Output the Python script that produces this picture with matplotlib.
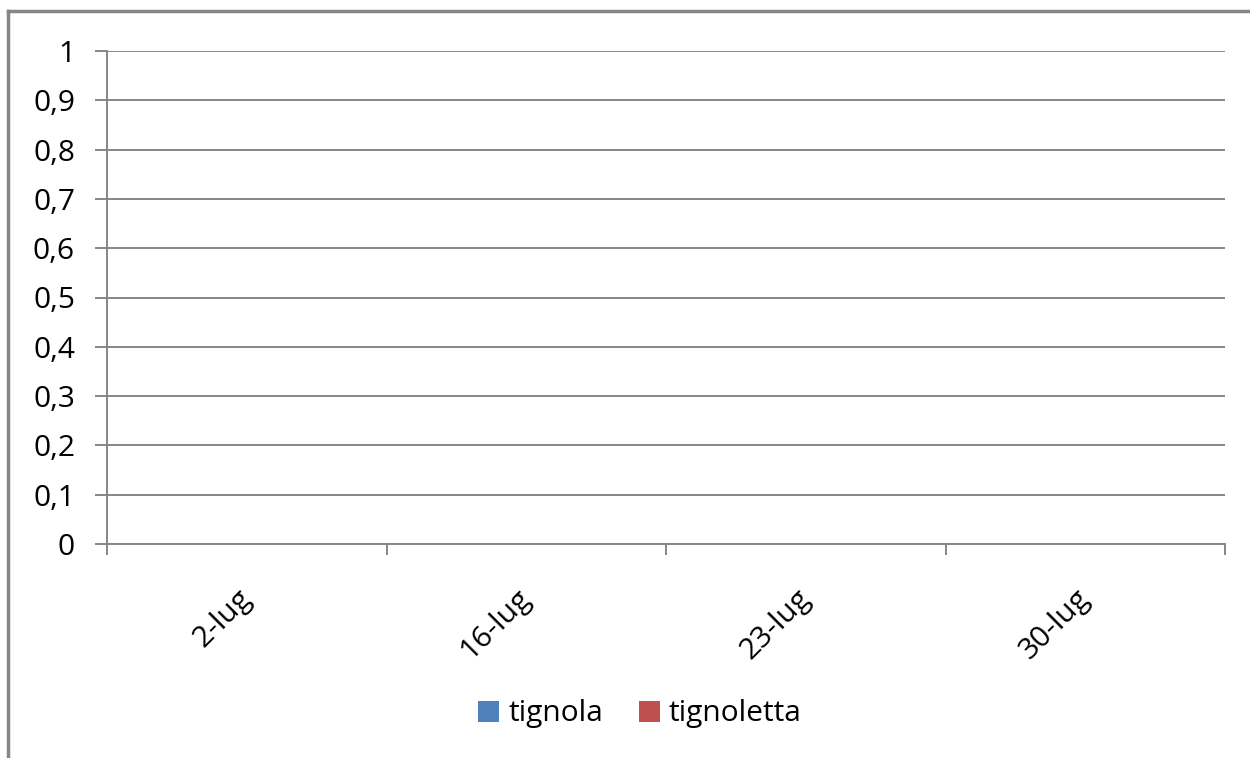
import matplotlib
matplotlib.use("Agg")
import matplotlib.pyplot as plt
from matplotlib.lines import Line2D
import numpy as np

# data (all zero in the source chart)
dates = ["2-lug", "16-lug", "23-lug", "30-lug"]
tignola = [0, 0, 0, 0]
tignoletta = [0, 0, 0, 0]
yticks = [0, 0.1, 0.2, 0.3, 0.4, 0.5, 0.6, 0.7, 0.8, 0.9, 1]

plt.rcParams['font.family'] = ['Open Sans', 'DejaVu Sans']
grey = "#868686"
fs = 21.5

fig = plt.figure(figsize=(12.5, 7.58), dpi=100)
ax = fig.add_axes([107 / 1250, 1 - 544 / 758, (1225 - 107) / 1250, (544 - 51) / 758])

x = np.arange(len(dates))
w = 0.3
ax.bar(x - w / 2, tignola, w, color="#4F81BD", label="tignola")
ax.bar(x + w / 2, tignoletta, w, color="#C0504D", label="tignoletta")

ax.set_xlim(-0.5, len(dates) - 0.5)
ax.set_ylim(0, 1)
ax.set_yticks(yticks)
ax.set_yticklabels([("%g" % v).replace(".", ",") for v in yticks], fontsize=fs)
ax.yaxis.grid(True, color=grey, linewidth=1.4)
ax.set_axisbelow(True)

ax.set_xticks(x)
ax.set_xticklabels(dates, rotation=45, ha="right", va="center", rotation_mode="anchor", fontsize=fs)
ax.set_xticks(np.arange(-0.5, len(dates)), minor=True)
ax.tick_params(axis="x", which="major", length=0, pad=36)
ax.tick_params(axis="x", which="minor", length=8, width=1.4, color=grey, direction="out")
ax.tick_params(axis="y", length=9, width=1.4, color=grey, pad=14)

for s in ["top", "right"]:
    ax.spines[s].set_visible(False)
for s in ["left", "bottom"]:
    ax.spines[s].set_color(grey)
    ax.spines[s].set_linewidth(1.4)

ax.legend(loc="center", bbox_to_anchor=(640 / 1250, 1 - 714 / 758), bbox_transform=fig.transFigure,
          ncol=2, frameon=False, fontsize=fs, handlelength=0.7, handleheight=0.7,
          handletextpad=0.3, columnspacing=1.2)

# outer chart frame (top and left edges visible)
fig.add_artist(Line2D([8 / 1250, 1.0], [1 - 11 / 758, 1 - 11 / 758], color=grey, linewidth=2.5,
                      transform=fig.transFigure))
fig.add_artist(Line2D([8 / 1250, 8 / 1250], [1 - 11 / 758, 0.0], color=grey, linewidth=2.5,
                      transform=fig.transFigure))

fig.savefig("out.png", dpi=100)
